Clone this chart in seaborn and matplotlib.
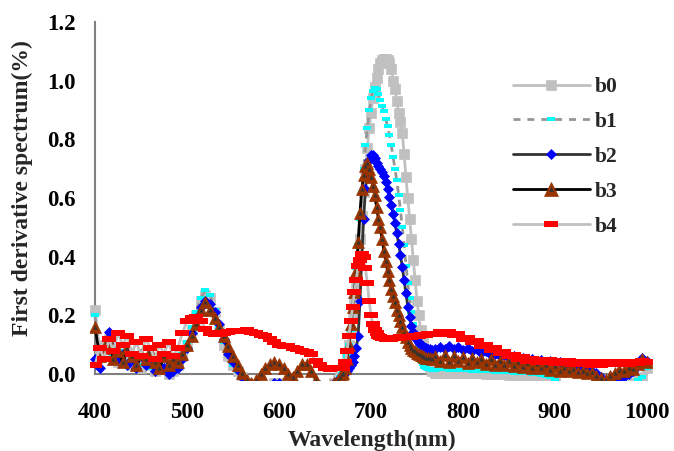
import matplotlib
matplotlib.use("Agg")
import matplotlib.pyplot as plt
import seaborn as sns
import pandas as pd
from matplotlib.path import Path
from matplotlib.lines import Line2D
from matplotlib.legend_handler import HandlerTuple

# Wavelength grid (nm): 5 nm steps, 2 nm steps across the red-edge peak
wavelength = list(range(400, 661, 5)) + list(range(664, 767, 2)) + list(range(770, 1001, 5))

b0 = [
    # 400-660
    0.22, 0.08, 0.10, 0.12, 0.07, 0.04, 0.09, 0.05, 0.03, 0.06,
    0.02, 0.05, 0.03, 0.01, 0.04, 0.02, 0.00, 0.01, 0.03, 0.06,
    0.10, 0.15, 0.20, 0.25, 0.27, 0.26, 0.21, 0.15, 0.10, 0.06,
    0.03, 0.01, -0.01, -0.03, -0.04, -0.05, -0.05, -0.04, -0.04, -0.03,
    -0.03, -0.04, -0.05, -0.05, -0.05, -0.05, -0.06, -0.06, -0.07, -0.07,
    -0.06, -0.05, -0.03,
    # 664-766
    -0.02, -0.01, 0.00, 0.01, 0.03, 0.06, 0.10, 0.14, 0.19, 0.25,
    0.31, 0.38, 0.46, 0.54, 0.62, 0.70, 0.77, 0.84, 0.89, 0.94,
    0.98, 1.01, 1.04, 1.06, 1.07, 1.075, 1.075, 1.07, 1.06, 1.04,
    1.00, 0.97, 0.93, 0.89, 0.86, 0.82, 0.75, 0.67, 0.60, 0.53,
    0.46, 0.39, 0.32, 0.25, 0.20, 0.15, 0.11, 0.08, 0.05, 0.03,
    0.02, 0.01,
    # 770-1000
    0.005, 0.004, 0.005, 0.004, 0.004, 0.003, 0.003, 0.003, 0.002, 0.002,
    0.002, 0.001, 0.001, 0.0, 0.0, -0.001, -0.002, -0.003, -0.004, -0.005,
    -0.006, -0.008, -0.01, -0.012, -0.015, -0.02, -0.03, -0.04, -0.04, -0.04,
    -0.04, -0.04, -0.04, -0.04, -0.04, -0.04, -0.04, -0.04, -0.04, -0.04,
    -0.04, -0.04, -0.04, -0.03, -0.02, -0.01, 0.02,
]

b1 = [
    # 400-660
    0.20, 0.06, 0.09, 0.10, 0.06, 0.05, 0.08, 0.04, 0.04, 0.05,
    0.03, 0.04, 0.02, 0.02, 0.03, 0.01, 0.00, 0.02, 0.03, 0.07,
    0.11, 0.16, 0.21, 0.26, 0.285, 0.27, 0.22, 0.16, 0.11, 0.07,
    0.03, 0.01, -0.01, -0.03, -0.04, -0.05, -0.05, -0.04, -0.04, -0.03,
    -0.03, -0.04, -0.05, -0.05, -0.05, -0.05, -0.06, -0.06, -0.07, -0.07,
    -0.06, -0.05, -0.03,
    # 664-766
    -0.02, -0.01, 0.00, 0.01, 0.03, 0.06, 0.10, 0.15, 0.21, 0.28,
    0.36, 0.44, 0.53, 0.62, 0.70, 0.78, 0.84, 0.90, 0.94, 0.965,
    0.975, 0.97, 0.955, 0.935, 0.915, 0.895, 0.87, 0.845, 0.815, 0.78,
    0.74, 0.70, 0.66, 0.61, 0.56, 0.50, 0.44, 0.37, 0.31, 0.26,
    0.21, 0.17, 0.13, 0.09, 0.065, 0.045, 0.035, 0.025, 0.02, 0.018,
    0.016, 0.015,
    # 770-1000
    0.015, 0.016, 0.016, 0.015, 0.015, 0.014, 0.014, 0.013, 0.012, 0.012,
    0.011, 0.010, 0.009, 0.008, 0.007, 0.007, 0.006, 0.005, 0.004, 0.003,
    0.002, 0.001, 0.0, -0.002, -0.005, -0.01, -0.02, -0.04, -0.04, -0.04,
    -0.04, -0.04, -0.04, -0.04, -0.04, -0.04, -0.04, -0.04, -0.04, -0.04,
    -0.04, -0.04, -0.04, -0.03, -0.02, -0.01, 0.02,
]

b2 = [
    # 400-660
    0.05, 0.02, 0.08, 0.145, 0.09, 0.05, 0.07, 0.03, 0.05, 0.02,
    0.06, 0.03, 0.04, 0.01, 0.03, 0.02, 0.00, 0.01, 0.02, 0.05,
    0.09, 0.14, 0.19, 0.23, 0.25, 0.24, 0.21, 0.17, 0.12, 0.07,
    0.04, 0.015, -0.01, -0.03, -0.04, -0.05, -0.05, -0.04, -0.04, -0.03,
    -0.03, -0.04, -0.05, -0.05, -0.05, -0.05, -0.06, -0.06, -0.07, -0.07,
    -0.06, -0.05, -0.03,
    # 664-766
    -0.02, -0.015, -0.01, 0.00, 0.005, 0.01, 0.02, 0.03, 0.04, 0.06,
    0.09, 0.13, 0.25, 0.40, 0.53, 0.63, 0.69, 0.73, 0.745, 0.745,
    0.735, 0.72, 0.71, 0.70, 0.69, 0.675, 0.655, 0.63, 0.605, 0.575,
    0.545, 0.515, 0.48, 0.445, 0.405, 0.365, 0.32, 0.275, 0.23, 0.195,
    0.165, 0.145, 0.13, 0.115, 0.105, 0.10, 0.095, 0.09, 0.088, 0.086,
    0.084, 0.082,
    # 770-1000
    0.085, 0.092, 0.086, 0.094, 0.084, 0.091, 0.082, 0.088, 0.078, 0.084,
    0.072, 0.078, 0.066, 0.07, 0.06, 0.064, 0.056, 0.06, 0.052, 0.056,
    0.05, 0.052, 0.046, 0.048, 0.042, 0.044, 0.038, 0.04, 0.034, 0.035,
    0.03, 0.028, 0.025, 0.02, 0.012, 0.003, -0.01, -0.02, -0.03, -0.03,
    -0.02, -0.01, 0.0, 0.01, 0.03, 0.055, 0.045,
]

b3 = [
    # 400-660
    0.16, 0.06, 0.09, 0.11, 0.05, 0.08, 0.04, 0.09, 0.06, 0.03,
    0.07, 0.05, 0.08, 0.04, 0.02, 0.06, 0.03, 0.05, 0.04, 0.07,
    0.10, 0.13, 0.17, 0.22, 0.245, 0.22, 0.19, 0.16, 0.13, 0.095,
    0.06, 0.03, 0.005, -0.02, -0.03, -0.02, 0.0, 0.02, 0.035, 0.04,
    0.035, 0.02, 0.0, -0.01, 0.01, 0.035, 0.035, 0.01, -0.02, -0.04,
    -0.05, -0.04, -0.03,
    # 664-766
    -0.02, -0.01, 0.0, 0.005, 0.02, 0.05, 0.10, 0.17, 0.23, 0.28,
    0.35, 0.45, 0.55, 0.63, 0.68, 0.71, 0.72, 0.70, 0.67, 0.64,
    0.61, 0.57, 0.53, 0.50, 0.46, 0.42, 0.385, 0.35, 0.32, 0.29,
    0.265, 0.245, 0.22, 0.20, 0.18, 0.16, 0.14, 0.125, 0.11, 0.10,
    0.09, 0.083, 0.077, 0.072, 0.068, 0.064, 0.06, 0.058, 0.056, 0.055,
    0.054, 0.053,
    # 770-1000
    0.06, 0.045, 0.065, 0.04, 0.06, 0.045, 0.058, 0.038, 0.055, 0.04,
    0.052, 0.035, 0.05, 0.032, 0.046, 0.03, 0.043, 0.028, 0.04, 0.025,
    0.036, 0.022, 0.033, 0.02, 0.03, 0.015, 0.026, 0.012, 0.022, 0.01,
    0.018, 0.006, 0.012, 0.003, 0.006, -0.005, -0.015, -0.02, -0.008, 0.004,
    0.015, 0.01, 0.022, 0.018, 0.035, 0.05, 0.04,
]

b4 = [
    # 400-660
    0.03, 0.09, 0.05, 0.12, 0.08, 0.14, 0.10, 0.13, 0.07, 0.11,
    0.06, 0.12, 0.09, 0.05, 0.10, 0.07, 0.11, 0.06, 0.09, 0.14,
    0.18, 0.19, 0.195, 0.18, 0.155, 0.14, 0.135, 0.135, 0.14, 0.143,
    0.146, 0.148, 0.147, 0.15, 0.145, 0.14, 0.133, 0.13, 0.12, 0.11,
    0.10, 0.097, 0.094, 0.09, 0.085, 0.08, 0.075, 0.068, 0.045, 0.03,
    0.02, 0.018, 0.02,
    # 664-766
    0.02, 0.02, 0.02, 0.02, 0.04, 0.08, 0.13, 0.18, 0.23, 0.28,
    0.32, 0.37, 0.39, 0.41, 0.40, 0.36, 0.31, 0.25, 0.20, 0.17,
    0.15, 0.14, 0.13, 0.127, 0.124, 0.122, 0.12, 0.12, 0.12, 0.121,
    0.122, 0.122, 0.123, 0.124, 0.125, 0.125, 0.126, 0.127, 0.127, 0.128,
    0.128, 0.129, 0.13, 0.13, 0.131, 0.132, 0.132, 0.133, 0.134, 0.135,
    0.136, 0.137,
    # 770-1000
    0.138, 0.145, 0.136, 0.145, 0.132, 0.135, 0.118, 0.124, 0.108, 0.112,
    0.096, 0.1, 0.083, 0.088, 0.072, 0.076, 0.062, 0.066, 0.052, 0.058,
    0.046, 0.052, 0.042, 0.049, 0.04, 0.047, 0.038, 0.045, 0.036, 0.043,
    0.034, 0.042, 0.033, 0.041, 0.032, 0.04, 0.032, 0.04, 0.033, 0.04,
    0.034, 0.041, 0.035, 0.042, 0.038, 0.046, 0.04,
]

series_names = ["b0", "b1", "b2", "b3", "b4"]
x_ticks = [400, 500, 600, 700, 800, 900, 1000]
y_ticks = [0.0, 0.2, 0.4, 0.6, 0.8, 1.0, 1.2]

df = pd.DataFrame({"wavelength": wavelength, "b0": b0, "b1": b1,
                   "b2": b2, "b3": b3, "b4": b4})

sns.set_style("white")
plt.rcParams["font.family"] = ["Liberation Serif", "DejaVu Serif"]
plt.rcParams["font.weight"] = "bold"

# Flat rectangle markers
def rect_marker(half_height):
    return Path([(-1, -half_height), (1, -half_height), (1, half_height),
                 (-1, half_height), (-1, -half_height)],
                [Path.MOVETO, Path.LINETO, Path.LINETO, Path.LINETO, Path.CLOSEPOLY])

cyan_rect = rect_marker(0.6)
red_rect = rect_marker(0.42)

fig = plt.figure(figsize=(6.74, 4.51), dpi=100)
ax = fig.add_axes([0.1328, 0.1576, 0.8353, 0.7936])

styles = {
    "b0": dict(color="#c0c0c0", marker="s", markersize=6.5, markerfacecolor="#c0c0c0",
               markeredgecolor="#c0c0c0", markeredgewidth=0.5, linewidth=2, linestyle="-"),
    "b1": dict(color="#969696", marker=cyan_rect, markersize=5.5, markerfacecolor="#00ffff",
               markeredgewidth=0, linewidth=2, linestyle=(0, (2.5, 2.5))),
    "b2": dict(color="#333333", marker="D", markersize=5, markerfacecolor="#0000ff",
               markeredgecolor="#0000ff", markeredgewidth=0.5, linewidth=2, linestyle="-"),
    "b3": dict(color="#000000", marker="^", markersize=9, markerfacecolor="#993300",
               markeredgecolor="#993300", markeredgewidth=0.5, linewidth=2, linestyle="-"),
    "b4": dict(color="#c0c0c0", marker=red_rect, markersize=10.5, markerfacecolor="#ff0000",
               markeredgewidth=0, linewidth=2, linestyle="-"),
}

for i, name in enumerate(series_names):
    sns.lineplot(data=df, x="wavelength", y=name, ax=ax, estimator=None, sort=False,
                 legend=False, zorder=3 + i, **styles[name])
    if name == "b3":
        # dark inner triangles of the b3 markers
        sns.lineplot(data=df, x="wavelength", y=name, ax=ax, estimator=None, sort=False,
                     legend=False, zorder=3.5 + i, color="#333333", linestyle="none",
                     marker="^", markersize=3, markeredgewidth=0)

ax.set_xlim(394, 1006)
ax.set_ylim(-0.02, 1.2)
ax.set_xlabel("")
ax.set_ylabel("")

for side in ["top", "right"]:
    ax.spines[side].set_visible(False)
ax.spines["left"].set_position(("data", 400))
ax.spines["bottom"].set_position(("data", 0))
ax.spines["left"].set_bounds(0, 1.2)
ax.spines["bottom"].set_bounds(400, 1000)
for side in ["left", "bottom"]:
    ax.spines[side].set_color("#808080")
    ax.spines[side].set_linewidth(1.5)
    ax.spines[side].set_zorder(2)

ax.set_xticks(x_ticks)
ax.set_yticks(y_ticks)
ax.set_yticklabels([f"{v:.1f}" for v in y_ticks])
ax.tick_params(axis="both", direction="in", length=4, width=1, color="#808080",
               labelsize=16.5, labelcolor="black")
ax.tick_params(axis="x", pad=20)
ax.tick_params(axis="y", pad=14)
for lab in ax.get_xticklabels() + ax.get_yticklabels():
    lab.set_fontweight("bold")

fig.text(372 / 674, 1 - 440 / 451, "Wavelength(nm)", ha="center", va="center",
         fontsize=17, fontweight="bold")
fig.text(22 / 674, 1 - 188 / 451, "First derivative spectrum(%)", ha="center",
         va="center", rotation=90, fontsize=17, fontweight="bold")

# Legend entries
h3_outer = Line2D([], [], **{**styles["b3"], "markersize": 10})
h3_inner = Line2D([], [], color="#333333", linestyle="none", marker="^",
                  markersize=3.5, markeredgewidth=0)
handles = [Line2D([], [], **styles["b0"]), Line2D([], [], **styles["b1"]),
           Line2D([], [], **styles["b2"]), (h3_outer, h3_inner),
           Line2D([], [], **styles["b4"])]
leg = fig.legend(handles, series_names, loc="upper left",
                 bbox_to_anchor=(513 / 674, 1 - 77 / 451),
                 bbox_transform=fig.transFigure, frameon=False, fontsize=15.5,
                 handlelength=3.57, handletextpad=0.25, labelspacing=0.69,
                 borderpad=0, borderaxespad=0, numpoints=1,
                 handler_map={tuple: HandlerTuple(ndivide=1, pad=0)})
for t in leg.get_texts():
    t.set_fontweight("bold")

fig.savefig("out.png", dpi=100)
